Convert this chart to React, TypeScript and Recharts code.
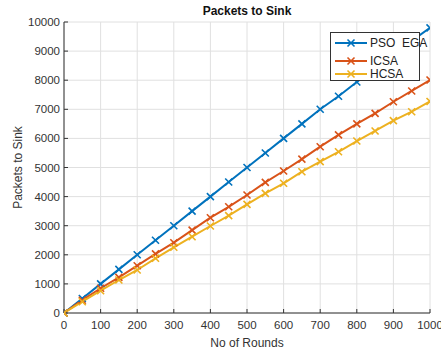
import React from 'react';
import { LineChart, Line, XAxis, YAxis, CartesianGrid, Label } from 'recharts';

const rounds = [0, 50, 100, 150, 200, 250, 300, 350, 400, 450, 500, 550, 600, 650, 700, 750, 800, 850, 900, 950, 1000];
const psoEga = [0, 500, 1000, 1500, 2000, 2500, 3000, 3500, 4000, 4500, 5000, 5500, 6000, 6500, 7000, 7450, 7940, 8400, 8900, 9350, 9800];
const icsa = [0, 440, 850, 1225, 1625, 2030, 2416, 2850, 3275, 3650, 4055, 4490, 4880, 5290, 5715, 6120, 6500, 6860, 7260, 7630, 8007];
const hcsa = [0, 388, 766, 1134, 1478, 1880, 2258, 2622, 2990, 3345, 3735, 4113, 4457, 4855, 5200, 5540, 5910, 6255, 6610, 6917, 7270];

const xTicks = [0, 100, 200, 300, 400, 500, 600, 700, 800, 900, 1000];
const yTicks = [0, 1000, 2000, 3000, 4000, 5000, 6000, 7000, 8000, 9000, 10000];

const seriesNames = ['PSO  EGA', 'ICSA', 'HCSA'];
const colors = ['#0072BD', '#D95319', '#EDB120'];
const title = 'Packets to Sink';

const data = rounds.map((r, i) => ({ r, pso: psoEga[i], icsa: icsa[i], hcsa: hcsa[i] }));

const FONT = '"Liberation Sans", Arial, Helvetica, sans-serif';
const TXT = '#333333';

const makeDot = (color: string) => (props: any) => {
  const { cx, cy, index } = props;
  if (cx == null || cy == null) return <g key={index} />;
  const s = 3.5;
  return (
    <g key={index}>
      <line x1={cx - s} y1={cy - s} x2={cx + s} y2={cy + s} stroke={color} strokeWidth={1.6} />
      <line x1={cx - s} y1={cy + s} x2={cx + s} y2={cy - s} stroke={color} strokeWidth={1.6} />
    </g>
  );
};

const LegendBox = () => {
  const tops = [2, 20, 33];
  return (
    <div style={{ position: 'absolute', left: 330, top: 32, width: 90, height: 49, border: '1px solid #333', background: '#fff', boxSizing: 'border-box', fontFamily: FONT, fontSize: 12, color: '#222' }}>
      {seriesNames.map((name, i) => (
        <div key={i} style={{ position: 'absolute', left: 3, top: tops[i], height: 16, display: 'flex', alignItems: 'center' }}>
          <svg width={34} height={16}>
            <line x1={1} y1={8} x2={33} y2={8} stroke={colors[i]} strokeWidth={2} />
            <line x1={13.5} y1={4.5} x2={20.5} y2={11.5} stroke={colors[i]} strokeWidth={1.6} />
            <line x1={13.5} y1={11.5} x2={20.5} y2={4.5} stroke={colors[i]} strokeWidth={1.6} />
          </svg>
          <span style={{ marginLeft: 2, whiteSpace: 'pre' }}>{name}</span>
        </div>
      ))}
    </div>
  );
};

const emptyTick = () => <g />;

export default function App() {
  return (
    <div style={{ position: 'fixed', left: 0, top: 0, width: 441, height: 352, background: '#fff' }}>
      <LineChart width={441} height={352} data={data} margin={{ top: 22, right: 11, bottom: 0, left: 0 }}>
        <CartesianGrid stroke="#e0e0e0" strokeWidth={1} />
        <XAxis
          dataKey="r"
          type="number"
          domain={[0, 1000]}
          ticks={xTicks}
          interval={0}
          height={39}
          tickSize={-4}
          tickMargin={12}
          stroke="#333"
          tick={{ fill: TXT, fontSize: 11.5, fontFamily: FONT }}
          allowDataOverflow
        >
          <Label value="No of Rounds" position="insideBottom" offset={5} style={{ fill: TXT, fontSize: 12, fontFamily: FONT }} />
        </XAxis>
        <XAxis
          xAxisId="top"
          orientation="top"
          type="number"
          domain={[0, 1000]}
          ticks={xTicks}
          interval={0}
          height={0}
          tickSize={-4}
          stroke="#333"
          tick={emptyTick}
        />
        <YAxis
          type="number"
          domain={[0, 10000]}
          ticks={yTicks}
          interval={0}
          width={64}
          tickSize={-4}
          tickMargin={8}
          stroke="#333"
          tick={{ fill: TXT, fontSize: 11.5, fontFamily: FONT }}
        >
          <Label value="Packets to Sink" angle={-90} position="insideLeft" offset={18} style={{ fill: TXT, fontSize: 12, fontFamily: FONT, textAnchor: 'middle' }} />
        </YAxis>
        <YAxis
          yAxisId="right"
          orientation="right"
          type="number"
          domain={[0, 10000]}
          ticks={yTicks}
          interval={0}
          width={0}
          tickSize={-4}
          stroke="#333"
          tick={emptyTick}
        />
        <Line type="linear" dataKey="pso" name={seriesNames[0]} stroke={colors[0]} strokeWidth={2} dot={makeDot(colors[0])} isAnimationActive={false} />
        <Line type="linear" dataKey="icsa" name={seriesNames[1]} stroke={colors[1]} strokeWidth={2} dot={makeDot(colors[1])} isAnimationActive={false} />
        <Line type="linear" dataKey="hcsa" name={seriesNames[2]} stroke={colors[2]} strokeWidth={2} dot={makeDot(colors[2])} isAnimationActive={false} />
      </LineChart>
      <div style={{ position: 'absolute', left: 64, top: 4, width: 366, textAlign: 'center', fontFamily: FONT, fontSize: 12, fontWeight: 'bold', color: '#111', lineHeight: '14px' }}>{title}</div>
      <LegendBox />
    </div>
  );
}
